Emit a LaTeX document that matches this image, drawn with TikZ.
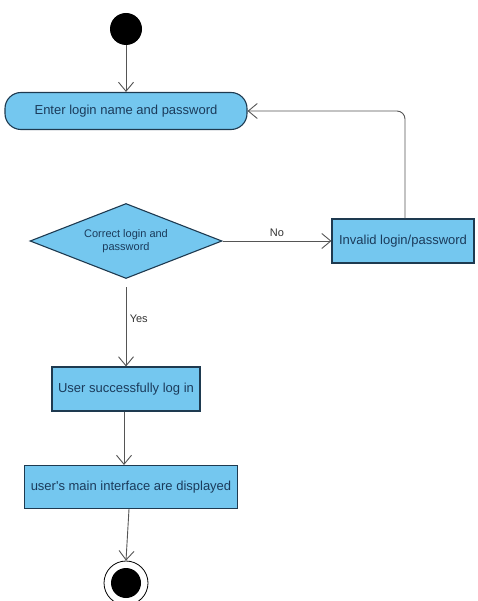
\documentclass[tikz,border=0pt]{standalone}
\usepackage{fontspec}
\setmainfont{Liberation Sans}
\usepackage{tikz}
\usetikzlibrary{shapes.geometric}
\usetikzlibrary{arrows.meta}
\usetikzlibrary{positioning}
\definecolor{boxblue}{HTML}{74C7EF}
\definecolor{boxline}{HTML}{1E3A50}
\definecolor{boxtext}{HTML}{1B3B5B}
\definecolor{flowgray}{HTML}{555555}

\begin{document}
\begin{tikzpicture}[node distance=100pt,
	act node/.style={rectangle, draw=boxline, line width=1.1pt, fill=boxblue, text=boxtext, font=\fontsize{13}{15}\selectfont, inner sep=0pt},
	dec node/.style={diamond, draw=boxline, line width=1.1pt, fill=boxblue, text=boxtext, font=\fontsize{11}{13}\selectfont, align=center, inner sep=0pt, aspect=2.56},
	flow/.style={draw=flowgray, line width=0.9pt, -{Straight Barb[length=9pt,width=15pt]}}]
			\useasboundingbox (0,0) rectangle (477pt,-601pt);
			% Nodes
			\node[circle, fill=black, minimum size=32pt, inner sep=0pt] (start) at (126pt,-29pt) {};
			\node[act node, rounded corners=16pt, minimum width=242pt, minimum height=37pt] (enter) [below of=start, yshift=18pt] {Enter login name and password};
			\node[dec node, minimum width=192pt, minimum height=75pt] (check) [below of=enter, yshift=-30pt] {Correct login and\\password};
			\node[act node, minimum width=142pt, minimum height=44pt] (invalid) [right of=check, xshift=177pt] {Invalid login/password};
			\node[act node, minimum width=148pt, minimum height=44pt] (success) [below of=check, yshift=-48pt] {User successfully log in};
			\node[act node, minimum width=213pt, minimum height=43pt] (display) [below of=success, xshift=5pt, yshift=2pt] {user\textquotesingle s main interface are displayed};
			\node[circle, draw=black, line width=0.8pt, minimum size=44pt, inner sep=0pt] (end) [below of=display, xshift=-5pt, yshift=4pt] {};
			\node[circle, fill=black, minimum size=30pt, inner sep=0pt] (endin) at (end.center) {};
			
			% Flows
			\path[every node/.style={font=\fontsize{11}{13}\selectfont, text=black!80}]
			(start) edge[flow] (enter)
			(check) edge[flow] node[above, yshift=1pt] {No} (invalid)
			(check) edge[flow, shorten <=8pt] node[right, pos=0.45] {Yes} (success);
			
			\draw[flow, rounded corners=8pt] ([xshift=2pt]invalid.north) |- (enter.east);
			\draw[flow] ([xshift=-2pt]success.south) -- ([xshift=-2pt]success.south |- display.north);
			\draw[flow] ([xshift=-2pt]display.south) -- (end.north);
			
		\end{tikzpicture}
\end{document}
